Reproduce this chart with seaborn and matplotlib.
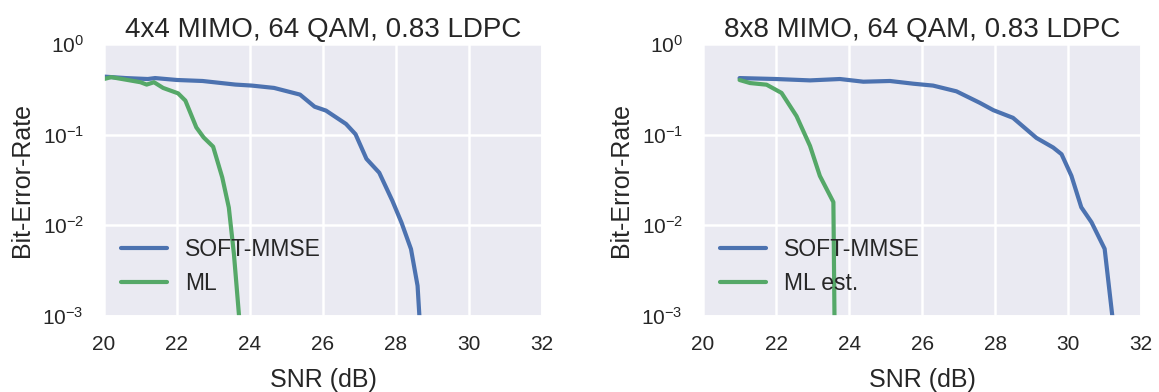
import matplotlib
matplotlib.use("Agg")
import matplotlib.pyplot as plt
import seaborn as sns

# 4x4 MIMO panel
snr_mmse_4 = [20.0, 20.6, 21.2, 21.4, 22.0, 22.7, 23.6, 24.05, 24.66, 25.37, 25.77, 26.08,
              26.63, 26.89, 27.19, 27.54, 27.9, 28.15, 28.41, 28.59, 28.64]
ber_mmse_4 = [0.436, 0.42, 0.41, 0.42, 0.40, 0.39, 0.356, 0.347, 0.327, 0.276, 0.203, 0.184,
              0.131, 0.101, 0.054, 0.038, 0.0186, 0.0107, 0.00546, 0.00215, 0.001]
snr_ml_4 = [20.0, 20.2, 21.0, 21.17, 21.37, 21.62, 22.03, 22.23, 22.53, 22.73, 22.99,
            23.24, 23.42, 23.56, 23.7]
ber_ml_4 = [0.41, 0.43, 0.378, 0.356, 0.378, 0.327, 0.285, 0.237, 0.12, 0.093, 0.0736,
            0.0337, 0.0157, 0.0048, 0.001]

# 8x8 MIMO panel
snr_mmse_8 = [21.0, 22.0, 22.93, 23.75, 24.39, 25.12, 25.76, 26.3, 26.94, 27.58, 27.95,
              28.49, 29.13, 29.59, 29.82, 30.09, 30.36, 30.64, 31.0, 31.21]
ber_mmse_8 = [0.42, 0.41, 0.396, 0.41, 0.383, 0.39, 0.364, 0.347, 0.30, 0.224, 0.186,
              0.153, 0.092, 0.072, 0.0607, 0.0351, 0.0158, 0.0108, 0.0055, 0.001]
snr_ml_8 = [21.0, 21.29, 21.74, 22.15, 22.56, 22.93, 23.2, 23.57, 23.6]
ber_ml_8 = [0.40, 0.37, 0.355, 0.288, 0.16, 0.075, 0.035, 0.018, 0.001]

sns.set_theme(style="darkgrid", rc={"grid.linewidth": 1.8})
plt.rcParams['font.family'] = ['Liberation Sans', 'DejaVu Sans']
plt.rcParams['mathtext.default'] = 'regular'

blue = '#4C72B0'
green = '#55A868'

fig = plt.figure(figsize=(11.59, 3.92), dpi=100)
ax1 = fig.add_axes([0.0897, 0.194, 0.378, 0.694])
ax2 = fig.add_axes([0.6066, 0.194, 0.378, 0.694])

panels = [
    (ax1, "4x4 MIMO, 64 QAM, 0.83 LDPC", snr_mmse_4, ber_mmse_4, snr_ml_4, ber_ml_4, "ML"),
    (ax2, "8x8 MIMO, 64 QAM, 0.83 LDPC", snr_mmse_8, ber_mmse_8, snr_ml_8, ber_ml_8, "ML est."),
]

for ax, title, xs, ys, xm, ym, ml_label in panels:
    sns.lineplot(x=xs, y=ys, ax=ax, color=blue, linewidth=3.0, label="SOFT-MMSE", sort=False)
    sns.lineplot(x=xm, y=ym, ax=ax, color=green, linewidth=3.0, label=ml_label, sort=False)
    ax.set_yscale('log')
    ax.set_xlim(20, 32)
    ax.set_ylim(1e-3, 1)
    ax.set_xticks([20, 22, 24, 26, 28, 30, 32])
    ax.set_yticks([1e-3, 1e-2, 1e-1, 1])
    ax.minorticks_off()
    ax.tick_params(axis='x', labelsize=15, pad=8)
    ax.tick_params(axis='y', labelsize=15, pad=8.5)
    ax.set_title(title, fontsize=20, pad=5)
    ax.set_xlabel("SNR (dB)", fontsize=18, labelpad=10)
    ax.set_ylabel("Bit-Error-Rate", fontsize=18, labelpad=6)
    ax.legend(loc='lower left', frameon=False, fontsize=16.5, handlelength=2.0,
              labelspacing=0.5, bbox_to_anchor=(-0.008, 0.0))

fig.savefig("out.png", dpi=100)
